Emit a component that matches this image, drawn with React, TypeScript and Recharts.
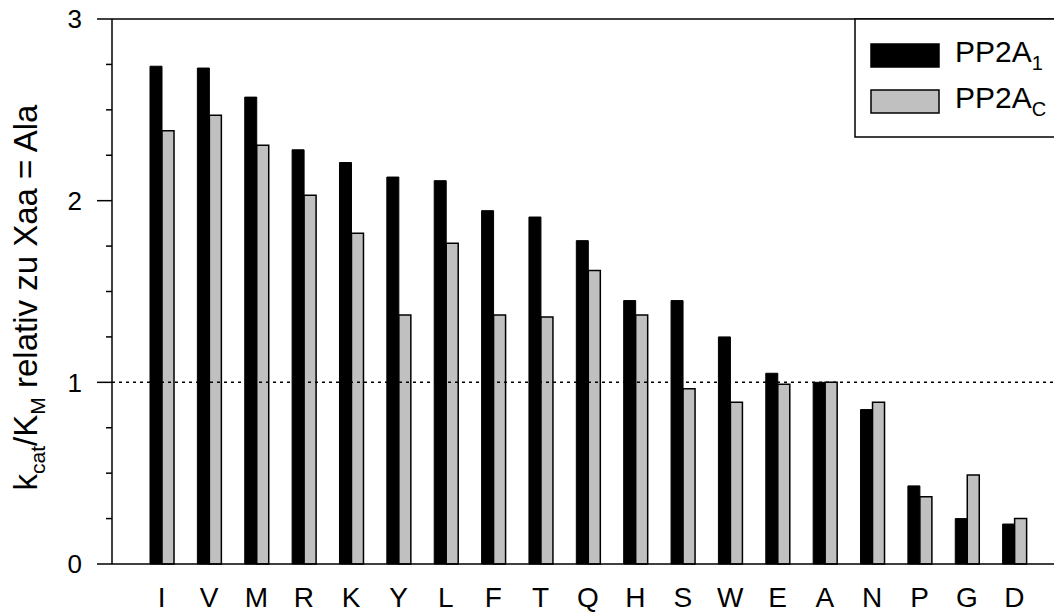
import { Bar, BarChart, Legend, ReferenceLine, XAxis, YAxis } from "recharts";

const residues = ["I", "V", "M", "R", "K", "Y", "L", "F", "T", "Q", "H", "S", "W", "E", "A", "N", "P", "G", "D"];
const pp2a1 = [2.74, 2.73, 2.57, 2.28, 2.21, 2.13, 2.11, 1.945, 1.91, 1.78, 1.45, 1.45, 1.25, 1.05, 1.0, 0.85, 0.43, 0.25, 0.22];
const pp2ac = [2.385, 2.47, 2.305, 2.03, 1.82, 1.37, 1.765, 1.37, 1.36, 1.615, 1.37, 0.965, 0.89, 0.99, 1.0, 0.89, 0.37, 0.49, 0.25];
const yTicks = [0, 0.25, 0.5, 0.75, 1, 1.25, 1.5, 1.75, 2, 2.25, 2.5, 2.75, 3];
const seriesSub: Record<string, string> = { pp2a1: "1", pp2ac: "C" };

const data = residues.map((name, i) => ({ name, pp2a1: pp2a1[i], pp2ac: pp2ac[i] }));

const FONT = "'Liberation Sans', Arial, Helvetica, sans-serif";

const YTick = (props: any) => {
  const { x, y, payload } = props;
  const major = Number.isInteger(payload.value);
  const axisX = x + 30; // tickSize + tickMargin
  return (
    <g>
      <line x1={major ? axisX - 15 : axisX - 6} x2={axisX} y1={y} y2={y} stroke="#000" strokeWidth={1.5} />
      {major && (
        <text x={x} y={y} dy="0.355em" textAnchor="end" fontSize={26} fontFamily={FONT} fill="#000">
          {payload.value}
        </text>
      )}
    </g>
  );
};

const YLabel = (props: any) => {
  const vb = props.viewBox || {};
  const cy = vb.y + vb.height / 2 + 6;
  const x = 37;
  return (
    <text x={x} y={cy} transform={`rotate(-90, ${x}, ${cy})`} textAnchor="middle" fontSize={33} fontFamily={FONT} fill="#000">
      k<tspan dy={8} fontSize={21}>cat</tspan>
      <tspan dy={-8}>/K</tspan>
      <tspan dy={8} fontSize={21}>M</tspan>
      <tspan dy={-8}> relativ zu Xaa = Ala</tspan>
    </text>
  );
};

const LegendBox = ({ payload }: any) => (
  <svg width={210} height={120} style={{ display: "block" }}>
    <rect x={1} y={1} width={260} height={118} fill="#fff" stroke="#000" strokeWidth={1.5} />
    {(payload || []).map((p: any, i: number) => (
      <g key={p.dataKey}>
        <rect x={17} y={26 + i * 46} width={68} height={23} fill={p.color} stroke="#000" strokeWidth={1.5} />
        <text x={101} y={44 + i * 46} fontSize={30} fontFamily={FONT} fill="#000">
          PP2A<tspan dy={8} fontSize={20}>{seriesSub[p.dataKey]}</tspan>
        </text>
      </g>
    ))}
  </svg>
);

export default function App() {
  return (
    <div style={{ position: "absolute", left: 0, top: 0, width: 1054, height: 614, overflow: "hidden", background: "#fff" }}>
      <BarChart
        width={1054}
        height={614}
        data={data}
        margin={{ top: 19, right: 0, bottom: 0, left: 0 }}
        barSize={12}
        barGap={0}
      >
        <XAxis
          dataKey="name"
          height={50}
          interval={0}
          tickLine={false}
          tickSize={0}
          tickMargin={23}
          padding={{ left: 26, right: 16 }}
          axisLine={{ stroke: "#000", strokeWidth: 1.5 }}
          tick={{ fill: "#000", fontSize: 28, fontFamily: FONT }}
        />
        <YAxis
          width={112}
          domain={[0, 3]}
          ticks={yTicks}
          interval={0}
          tickLine={false}
          tickSize={15}
          tickMargin={15}
          axisLine={{ stroke: "#000", strokeWidth: 1.5 }}
          tick={<YTick />}
          label={<YLabel />}
        />
        <ReferenceLine y={3} stroke="#000" strokeWidth={1.5} />
        <ReferenceLine y={1} stroke="#000" strokeWidth={1.5} strokeDasharray="3 4" />
        <Bar dataKey="pp2a1" name="PP2A1" fill="#000" stroke="#000" strokeWidth={1} isAnimationActive={false} />
        <Bar dataKey="pp2ac" name="PP2AC" fill="#c0c0c0" stroke="#000" strokeWidth={1.5} isAnimationActive={false} />
        <Legend
          layout="vertical"
          align="center"
          verticalAlign="middle"
          content={<LegendBox />}
          wrapperStyle={{ position: "absolute", left: 854, top: 18, width: 210, height: 120 }}
        />
      </BarChart>
    </div>
  );
}
